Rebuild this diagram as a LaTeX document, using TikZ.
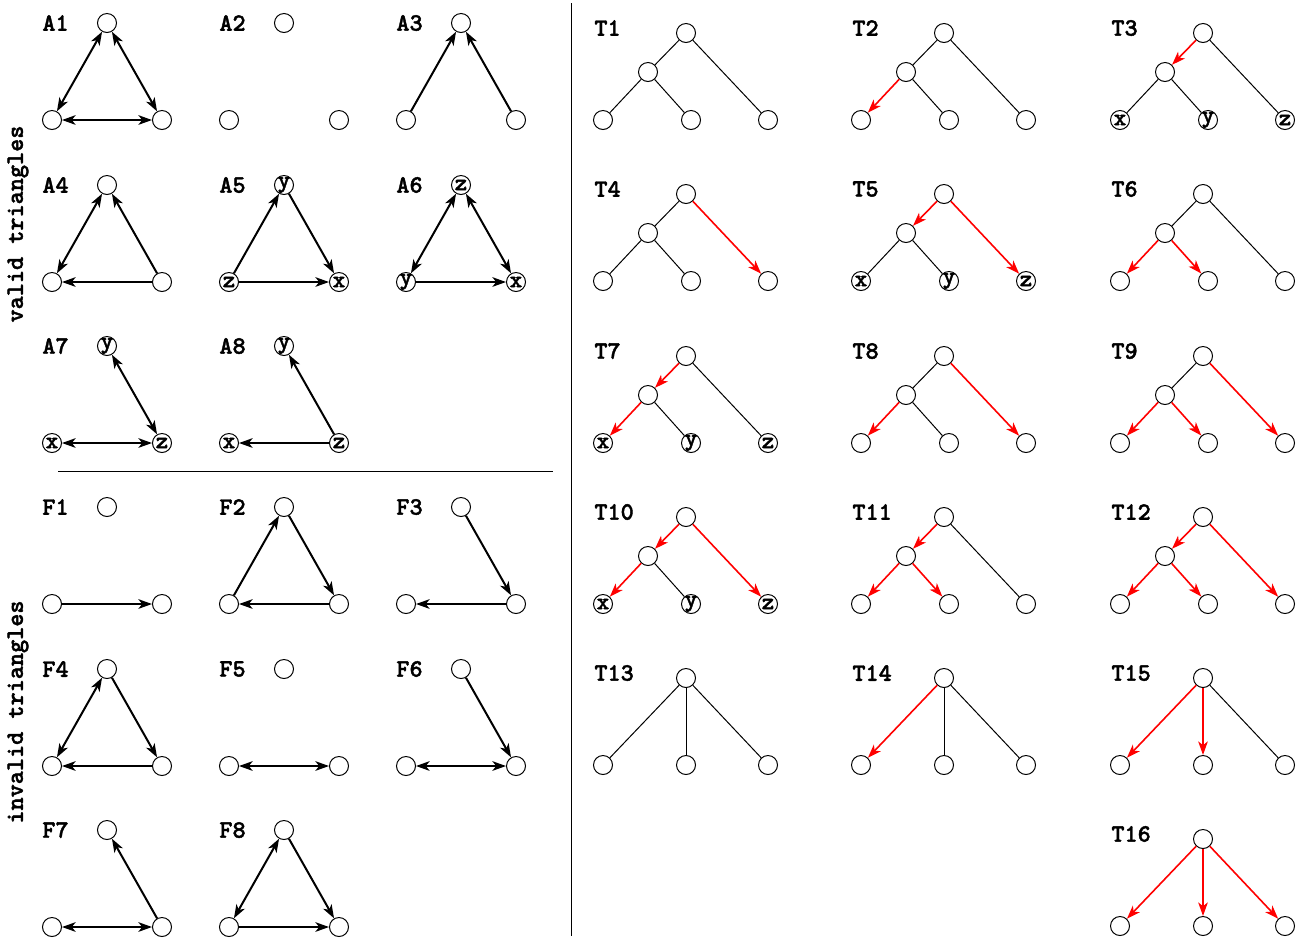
\documentclass[tikz,border=0pt]{standalone}
\usepackage{fontspec}
\setmonofont{lmmonolt10-regular.otf}[BoldFont=lmmonolt10-bold.otf,BoldFeatures={FakeBold=1.6}]
\usetikzlibrary{arrows.meta}
\tikzset{
 vtx/.style={circle,draw,line width=0.5pt,minimum size=9.5pt,inner sep=0pt,fill=white},
 ltr/.style={font=\fontsize{12}{12}\selectfont\ttfamily\bfseries,inner sep=0pt},
 lab/.style={font=\fontsize{12.5}{13}\selectfont\ttfamily\bfseries,anchor=west,inner sep=0pt},
 side/.style={font=\fontsize{12.5}{13}\selectfont\ttfamily\bfseries,inner sep=0pt,rotate=90},
 bl/.style={line width=1pt,black,>={Stealth[length=6.8pt,width=4.8pt,inset=1.9pt]}},
 bi/.style={bl,<->},
 di/.style={bl,->},
 tl/.style={line width=0.5pt,black},
 ra/.style={line width=0.8pt,red,-{Stealth[length=6.8pt,width=4.8pt,inset=1.9pt]}},
 sep/.style={line width=0.5pt,black},
}
\newcommand\ltrat[2]{\if\relax\detokenize{#2}\relax\else\node[ltr] at (#1) {#2};\fi}
\newcommand\tri[7]{%
 \node[lab] (#1lab) at (#2-65,#3) {#4};
 \node[vtx] (#1t) at (#2,#3) {};
 \node[vtx] (#1l) at (#2-55,#3+97) {};
 \node[vtx] (#1r) at (#2+55,#3+97) {};
 \ltrat{#1t}{#5}\ltrat{#1l}{#6}\ltrat{#1r}{#7}}
\newcommand\btree[7]{%
 \node[lab] (#1lab) at (#2-92,#3-5) {#4};
 \node[vtx] (#1r) at (#2,#3) {};
 \node[vtx] (#1m) at (#2-38,#3+39) {};
 \node[vtx] (#1a) at (#2-83,#3+87) {};
 \node[vtx] (#1b) at (#2+5,#3+87) {};
 \node[vtx] (#1c) at (#2+82,#3+87) {};
 \ltrat{#1a}{#5}\ltrat{#1b}{#6}\ltrat{#1c}{#7}}
\newcommand\bedges[5]{%
 \draw[#2] (#1r) -- (#1m);
 \draw[#3] (#1m) -- (#1a);
 \draw[#4] (#1m) -- (#1b);
 \draw[#5] (#1r) -- (#1c);}
\newcommand\ftree[4]{%
 \node[lab] (#1lab) at (#2-92,#3-5) {#4};
 \node[vtx] (#1r) at (#2,#3) {};
 \node[vtx] (#1a) at (#2-83,#3+87) {};
 \node[vtx] (#1b) at (#2,#3+87) {};
 \node[vtx] (#1c) at (#2+82,#3+87) {};}
\newcommand\fedges[4]{%
 \draw[#2] (#1r) -- (#1a);
 \draw[#3] (#1r) -- (#1b);
 \draw[#4] (#1r) -- (#1c);}
\begin{document}
\begin{tikzpicture}[x=0.5pt,y=-0.5pt]
\useasboundingbox (0,0) rectangle (1306,939);
% separators
\draw[sep] (58,471) -- (553,471);
\draw[sep] (571,3) -- (571,936);
\node[side] (valid) at (18,224) {valid triangles};
\node[side] (invalid) at (18,712) {invalid triangles};
% valid triangles
\tri{A1}{107}{23}{A1}{}{}{}
\tri{A2}{284}{23}{A2}{}{}{}
\tri{A3}{461}{23}{A3}{}{}{}
\tri{A4}{107}{185}{A4}{}{}{}
\tri{A5}{284}{185}{A5}{y}{z}{x}
\tri{A6}{461}{185}{A6}{z}{y}{x}
\tri{A7}{107}{346}{A7}{y}{x}{z}
\tri{A8}{284}{346}{A8}{y}{x}{z}
\draw[bi] (A1t) -- (A1l);
\draw[bi] (A1t) -- (A1r);
\draw[bi] (A1l) -- (A1r);
\draw[di] (A3l) -- (A3t);
\draw[di] (A3r) -- (A3t);
\draw[bi] (A4t) -- (A4l);
\draw[di] (A4r) -- (A4t);
\draw[di] (A4r) -- (A4l);
\draw[di] (A5l) -- (A5t);
\draw[di] (A5t) -- (A5r);
\draw[di] (A5l) -- (A5r);
\draw[bi] (A6t) -- (A6l);
\draw[bi] (A6t) -- (A6r);
\draw[di] (A6l) -- (A6r);
\draw[bi] (A7t) -- (A7r);
\draw[bi] (A7l) -- (A7r);
\draw[di] (A8r) -- (A8t);
\draw[di] (A8r) -- (A8l);
% invalid triangles
\tri{F1}{107}{507}{F1}{}{}{}
\tri{F2}{284}{507}{F2}{}{}{}
\tri{F3}{461}{507}{F3}{}{}{}
\tri{F4}{107}{669}{F4}{}{}{}
\tri{F5}{284}{669}{F5}{}{}{}
\tri{F6}{461}{669}{F6}{}{}{}
\tri{F7}{107}{830}{F7}{}{}{}
\tri{F8}{284}{830}{F8}{}{}{}
\draw[di] (F1l) -- (F1r);
\draw[di] (F2l) -- (F2t);
\draw[di] (F2t) -- (F2r);
\draw[di] (F2r) -- (F2l);
\draw[di] (F3t) -- (F3r);
\draw[di] (F3r) -- (F3l);
\draw[bi] (F4t) -- (F4l);
\draw[di] (F4t) -- (F4r);
\draw[di] (F4r) -- (F4l);
\draw[bi] (F5l) -- (F5r);
\draw[di] (F6t) -- (F6r);
\draw[bi] (F6l) -- (F6r);
\draw[di] (F7r) -- (F7t);
\draw[bi] (F7l) -- (F7r);
\draw[bi] (F8t) -- (F8l);
\draw[di] (F8t) -- (F8r);
\draw[di] (F8l) -- (F8r);
% trees
\btree{T1}{686}{33}{T1}{}{}{}
\btree{T2}{944}{33}{T2}{}{}{}
\btree{T3}{1203}{33}{T3}{x}{y}{z}
\btree{T4}{686}{194}{T4}{}{}{}
\btree{T5}{944}{194}{T5}{x}{y}{z}
\btree{T6}{1203}{194}{T6}{}{}{}
\btree{T7}{686}{356}{T7}{x}{y}{z}
\btree{T8}{944}{356}{T8}{}{}{}
\btree{T9}{1203}{356}{T9}{}{}{}
\btree{T10}{686}{517}{T10}{x}{y}{z}
\btree{T11}{944}{517}{T11}{}{}{}
\btree{T12}{1203}{517}{T12}{}{}{}
\bedges{T1}{tl}{tl}{tl}{tl}
\bedges{T2}{tl}{ra}{tl}{tl}
\bedges{T3}{ra}{tl}{tl}{tl}
\bedges{T4}{tl}{tl}{tl}{ra}
\bedges{T5}{ra}{tl}{tl}{ra}
\bedges{T6}{tl}{ra}{ra}{tl}
\bedges{T7}{ra}{ra}{tl}{tl}
\bedges{T8}{tl}{ra}{tl}{ra}
\bedges{T9}{tl}{ra}{ra}{ra}
\bedges{T10}{ra}{ra}{tl}{ra}
\bedges{T11}{ra}{ra}{ra}{tl}
\bedges{T12}{ra}{ra}{ra}{ra}
\ftree{T13}{686}{678}{T13}
\ftree{T14}{944}{678}{T14}
\ftree{T15}{1203}{678}{T15}
\ftree{T16}{1203}{839}{T16}
\fedges{T13}{tl}{tl}{tl}
\fedges{T14}{ra}{tl}{tl}
\fedges{T15}{ra}{ra}{tl}
\fedges{T16}{ra}{ra}{ra}
\end{tikzpicture}
\end{document}
